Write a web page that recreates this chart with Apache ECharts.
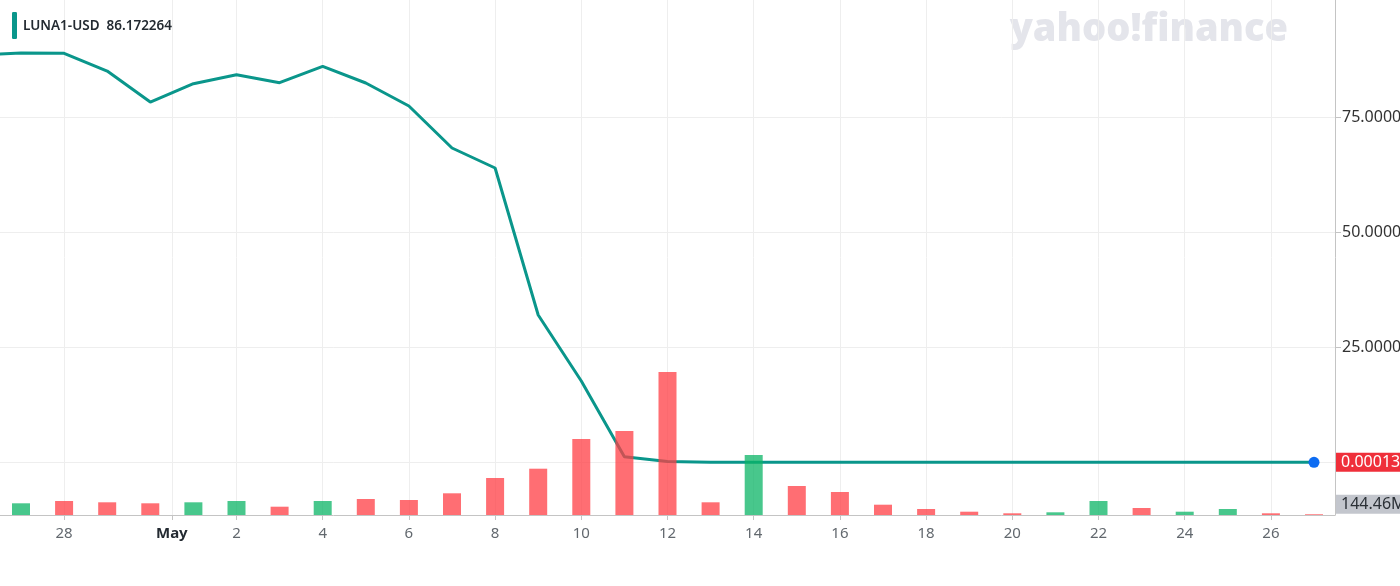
<!DOCTYPE html>
<html><head><meta charset="utf-8">
<script src="https://cdn.jsdelivr.net/npm/echarts@6/dist/echarts.min.js"></script>
<style>html,body{margin:0;padding:0;background:#fff;}#c{width:1400px;height:586px;}</style>
</head><body><div id="c"></div>
<script>
// ---- data ----
const seriesName = 'LUNA1-USD';
const legendValue = '86.172264';
// price dates start one day before the first volume bar (Apr 26 is index -1)
const priceDates = ['Apr 26','Apr 27','Apr 28','Apr 29','Apr 30','May 1','May 2','May 3','May 4','May 5','May 6','May 7','May 8','May 9','May 10','May 11','May 12','May 13','May 14','May 15','May 16','May 17','May 18','May 19','May 20','May 21','May 22','May 23','May 24','May 25','May 26','May 27'];
const priceValues = [88.64, 89.07, 89.01, 85.15, 78.41, 82.39, 84.35, 82.61, 86.17, 82.55, 77.54, 68.40, 64.05, 32.06, 17.69, 1.22, 0.16, 0.00099, 0.00017, 0.00023, 0.00019, 0.00017, 0.00016, 0.00015, 0.00014, 0.00014, 0.00015, 0.00014, 0.00014, 0.00014, 0.00013, 0.000131];
const volumeDates = priceDates.slice(1);
// volume in millions
const volumeValues = [2340, 2800, 2540, 2340, 2540, 2800, 1660, 2800, 3200, 3000, 4340, 7400, 9260, 15200, 16800, 28600, 2540, 12000, 5800, 4600, 2060, 1200, 660, 340, 540, 2800, 1400, 660, 1200, 340, 144.46];
const volumeDirection = ['up','down','down','down','up','up','down','up','down','down','down','down','down','down','down','down','down','up','down','down','down','down','down','down','up','up','down','up','up','down','down'];
const xTickValues = [1, 3.5, 5, 7, 9, 11, 13, 15, 17, 19, 21, 23, 25, 27, 29];
const xTickLabels = ['28','May','2','4','6','8','10','12','14','16','18','20','22','24','26'];
const priceTickValues = [25, 50, 75];
const priceGridValues = [0, 25, 50, 75];
const lastVolumeLabel = '144.46M';

// ---- chart ----
const teal = '#0a968b';
const red = 'rgba(255,62,68,0.75)';
const green = 'rgba(11,180,102,0.75)';
const gridColor = '#eeeeee';
const axisColor = '#c4c4c4';
const font = '"Noto Sans", "Open Sans", sans-serif';
const clear = 'rgba(0,0,0,0)';

const priceData = priceValues.map((v, i) => [i - 1, v]);
const lastIdx = priceData.length - 1;
const volumeData = volumeValues.map((v, i) => ({
  value: [i, v],
  itemStyle: { color: volumeDirection[i] === 'up' ? green : red }
}));

const chart = echarts.init(document.getElementById('c'), null, { renderer: 'canvas' });
chart.setOption({
  animation: false,
  backgroundColor: '#ffffff',
  textStyle: { fontFamily: font },
  grid: { left: 0, right: 65, top: 0, bottom: 71, containLabel: false, outerBoundsMode: 'none' },
  legend: {
    data: [seriesName],
    left: 12, top: 12, padding: 0,
    itemWidth: 5, itemHeight: 27, itemGap: 6,
    icon: 'roundRect',
    formatter: (n) => '{a|' + n + '}{b|' + legendValue + '}',
    textStyle: {
      fontFamily: font, fontSize: 13.5, fontWeight: 600, color: '#232a31',
      rich: {
        a: { fontFamily: font, fontSize: 13.5, fontWeight: 600, color: '#232a31', padding: [2, 0, 0, 1] },
        b: { fontFamily: font, fontSize: 13.5, fontWeight: 600, color: '#232a31', padding: [2, 0, 0, 7] }
      }
    },
    selectedMode: false
  },
  graphic: [{
    type: 'text', right: 112, top: 11, silent: true,
    style: { text: 'yahoo!finance', font: '900 38px "Open Sans", sans-serif', fill: '#e4e5eb' }
  }],
  xAxis: {
    type: 'value', min: -0.487, max: 30.487,
    axisLine: { show: true, onZero: false, lineStyle: { color: axisColor, width: 1 } },
    axisTick: { show: true, customValues: xTickValues, length: 5, lineStyle: { color: axisColor } },
    splitLine: { show: false },
    axisLabel: {
      customValues: xTickValues,
      margin: 11,
      fontSize: 15, color: '#62686e', fontFamily: font,
      formatter: (v) => {
        const k = xTickValues.findIndex(t => Math.abs(t - v) < 1e-6);
        if (k < 0) return '';
        const s = xTickLabels[k];
        return isNaN(Number(s)) ? '{b|' + s + '}' : s;
      },
      rich: { b: { fontSize: 15, fontWeight: 'bold', color: '#232a31', fontFamily: font } }
    }
  },
  yAxis: [{
    type: 'value', position: 'right', min: -11.47, max: 100.61,
    axisLine: { show: true, onZero: false, lineStyle: { color: axisColor } },
    axisTick: { show: true, customValues: priceTickValues, length: 6, lineStyle: { color: axisColor } },
    splitLine: { show: false },
    axisLabel: {
      customValues: priceTickValues, margin: 7,
      fontSize: 16, color: '#333', fontFamily: font,
      formatter: (v) => v.toFixed(5)
    }
  }, {
    type: 'value', min: 0, max: 103000, show: false,
    axisLine: { onZero: false }
  }],
  series: [{
    name: 'gridlines', type: 'line', z: 0, silent: true,
    data: priceData, symbol: 'none', lineStyle: { opacity: 0 },
    markLine: {
      silent: true, z: 0, symbol: ['none', 'none'], animation: false,
      label: { show: false },
      lineStyle: { color: gridColor, type: 'solid', width: 1 },
      data: xTickValues.map(v => ({ xAxis: v })).concat(priceGridValues.map(v => ({ yAxis: v })))
    }
  }, {
    name: seriesName, type: 'line', z: 2,
    data: priceData, symbol: 'none', smooth: false, clip: true,
    itemStyle: { color: teal },
    lineStyle: { color: teal, width: 3 },
    markPoint: {
      silent: true, symbol: 'circle', symbolSize: 11,
      itemStyle: { color: '#0d6cf2' },
      label: { show: false },
      data: [{ coord: priceData[lastIdx] }]
    },
    markLine: {
      silent: true, z: 6, symbol: ['none', 'none'],
      lineStyle: { color: clear, width: 0 },
      label: {
        show: true, position: 'end', distance: 1,
        formatter: () => String(priceValues[lastIdx]),
        backgroundColor: '#ef2f3a', color: '#ffffff',
        fontSize: 16, fontFamily: font, padding: [2, 5, 1, 5]
      },
      data: [{ yAxis: priceValues[lastIdx] }]
    }
  }, {
    name: 'Volume', type: 'bar', yAxisIndex: 1, z: 3,
    data: volumeData, barWidth: 18,
    markLine: {
      silent: true, z: 6, symbol: ['none', 'none'],
      lineStyle: { color: clear, width: 0 },
      label: {
        show: true, position: 'end', distance: 1, offset: [0, -10],
        formatter: () => lastVolumeLabel,
        backgroundColor: '#c3c6cd', color: '#2b3036',
        fontSize: 16, fontFamily: font, padding: [2, 5, 1, 5]
      },
      data: [{ yAxis: volumeValues[volumeValues.length - 1] }]
    }
  }]
});
</script>
</body></html>
